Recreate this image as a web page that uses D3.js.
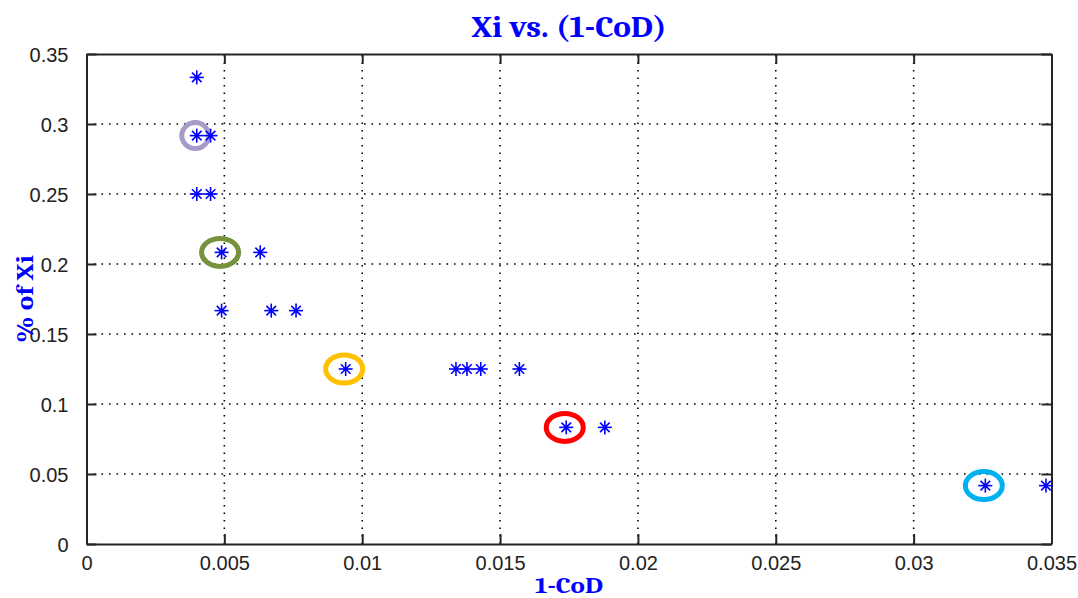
<!DOCTYPE html>
<html>
<head>
<meta charset="utf-8">
<script src="https://cdn.jsdelivr.net/npm/d3@7"></script>
<style>
  html, body { margin: 0; padding: 0; background: #fff; }
  svg { display: block; }
</style>
</head>
<body>
<svg id="chart" width="1078" height="598"></svg>
<script>
// 1-CoD on x, share of Xi on y
const oneMinusCoD = [0.0040, 0.0040, 0.0045, 0.0040, 0.0045, 0.0049, 0.0063, 0.0049, 0.0067, 0.0076,
                     0.0094, 0.0134, 0.0138, 0.0143, 0.0157, 0.0174, 0.0188, 0.0326, 0.0348];
const pctXi = [0.3333, 0.2917, 0.2917, 0.2500, 0.2500, 0.2083, 0.2083, 0.1667, 0.1667, 0.1667,
               0.1250, 0.1250, 0.1250, 0.1250, 0.1250, 0.0833, 0.0833, 0.0417, 0.0417];
// points picked out with a coloured ring
const highlighted = [1, 5, 10, 15, 17];
const xTicks = [0, 0.005, 0.01, 0.015, 0.02, 0.025, 0.03, 0.035];
const xTickLabels = ["0", "0.005", "0.01", "0.015", "0.02", "0.025", "0.03", "0.035"];
const yTicks = [0, 0.05, 0.1, 0.15, 0.2, 0.25, 0.3, 0.35];
const yTickLabels = ["0", "0.05", "0.1", "0.15", "0.2", "0.25", "0.3", "0.35"];

const ringColors = ["#a99bc8", "#76923c", "#ffc000", "#ff0000", "#00b0f0"];

(function () {
const W = 1078, H = 598;
const m = { left: 86.5, right: 26.5, top: 54, bottom: 54 };
const svg = d3.select("#chart");

const x = d3.scaleLinear().domain([0, 0.035]).range([m.left, W - m.right]);
const y = d3.scaleLinear().domain([0, 0.35]).range([H - m.bottom, m.top]);

const axisColor = "#262626";
const tickFont = "'Liberation Sans', Arial, sans-serif";

// dotted grid
const grid = svg.append("g");
grid.selectAll("line.gx").data(xTicks.slice(1, -1)).join("line")
  .attr("x1", d => x(d)).attr("x2", d => x(d))
  .attr("y1", y(0)).attr("y2", y(0.35))
  .attr("stroke", "#000").attr("stroke-width", 1.6)
  .attr("stroke-dasharray", "1.6,5.9").attr("stroke-linecap", "butt");
grid.selectAll("line.gy").data(yTicks.slice(1, -1)).join("line")
  .attr("y1", d => y(d)).attr("y2", d => y(d))
  .attr("x1", x(0)).attr("x2", x(0.035))
  .attr("stroke", "#000").attr("stroke-width", 1.6)
  .attr("stroke-dasharray", "1.6,5.9");

// axes with inward ticks on all four sides
const tickLen = 10;
const axBottom = svg.append("g").attr("transform", `translate(0,${y(0)})`)
  .call(d3.axisBottom(x).tickValues(xTicks).tickFormat((d, i) => xTickLabels[i])
    .tickSizeInner(-tickLen).tickSizeOuter(0).tickPadding(15));
const axTop = svg.append("g").attr("transform", `translate(0,${y(0.35)})`)
  .call(d3.axisTop(x).tickValues(xTicks).tickFormat("")
    .tickSizeInner(-tickLen).tickSizeOuter(0));
const axLeft = svg.append("g").attr("transform", `translate(${x(0)},0)`)
  .call(d3.axisLeft(y).tickValues(yTicks).tickFormat((d, i) => yTickLabels[i])
    .tickSizeInner(-tickLen).tickSizeOuter(0).tickPadding(18));
const axRight = svg.append("g").attr("transform", `translate(${x(0.035)},0)`)
  .call(d3.axisRight(y).tickValues(yTicks).tickFormat("")
    .tickSizeInner(-tickLen).tickSizeOuter(0));

[axBottom, axTop, axLeft, axRight].forEach(g => {
  g.select(".domain").attr("stroke", axisColor).attr("stroke-width", 2);
  g.selectAll(".tick line").attr("stroke", axisColor).attr("stroke-width", 2);
  g.selectAll(".tick text").attr("fill", "#222").attr("font-family", tickFont)
    .attr("font-size", 20);
});
axBottom.selectAll(".tick text").attr("dy", "0.55em");
axLeft.selectAll(".tick text").attr("dy", "0.36em");

// coloured rings round the highlighted points
svg.append("g").selectAll("ellipse").data(highlighted).join("ellipse")
  .attr("cx", d => x(oneMinusCoD[d]) - 1.5)
  .attr("cy", d => y(pctXi[d]))
  .attr("rx", (d, i) => i === 0 ? 13.5 : 18.5)
  .attr("ry", (d, i) => i === 0 ? 13 : 14)
  .attr("fill", "none")
  .attr("stroke", (d, i) => ringColors[i])
  .attr("stroke-width", 5);

// asterisk markers
const star = svg.append("g").selectAll("g").data(oneMinusCoD.map((v, i) => [v, pctXi[i]])).join("g")
  .attr("transform", d => `translate(${x(d[0])},${y(d[1])})`);
const arm = 7, diag = 4.8;
const segs = [[-arm, 0, arm, 0], [0, -arm, 0, arm], [-diag, -diag, diag, diag], [-diag, diag, diag, -diag]];
segs.forEach(s => {
  star.append("line")
    .attr("x1", s[0]).attr("y1", s[1]).attr("x2", s[2]).attr("y2", s[3])
    .attr("stroke", "#0000ff").attr("stroke-width", 1.6);
});
star.append("circle").attr("r", 2.2).attr("fill", "#0000ff");

// titles
const serif = "Cambria, 'Liberation Serif', 'DejaVu Serif', serif";
svg.append("text").attr("x", (x(0) + x(0.035)) / 2).attr("y", 37)
  .attr("text-anchor", "middle").attr("font-family", serif).attr("font-weight", "bold")
  .attr("font-size", 31).attr("textLength", 195).attr("lengthAdjust", "spacingAndGlyphs")
  .attr("fill", "#0000ff").text("Xi vs. (1-CoD)");
svg.append("text").attr("x", (x(0) + x(0.035)) / 2).attr("y", 593)
  .attr("text-anchor", "middle").attr("font-family", serif).attr("font-weight", "bold")
  .attr("font-size", 23).attr("textLength", 68).attr("lengthAdjust", "spacingAndGlyphs")
  .attr("fill", "#0000ff").text("1-CoD");
svg.append("text").attr("transform", "translate(33,299) rotate(-90)")
  .attr("text-anchor", "middle").attr("font-family", serif).attr("font-weight", "bold")
  .attr("font-size", 25).attr("textLength", 88).attr("lengthAdjust", "spacingAndGlyphs")
  .attr("fill", "#0000ff").text("% of Xi");
})();
</script>
</body>
</html>
